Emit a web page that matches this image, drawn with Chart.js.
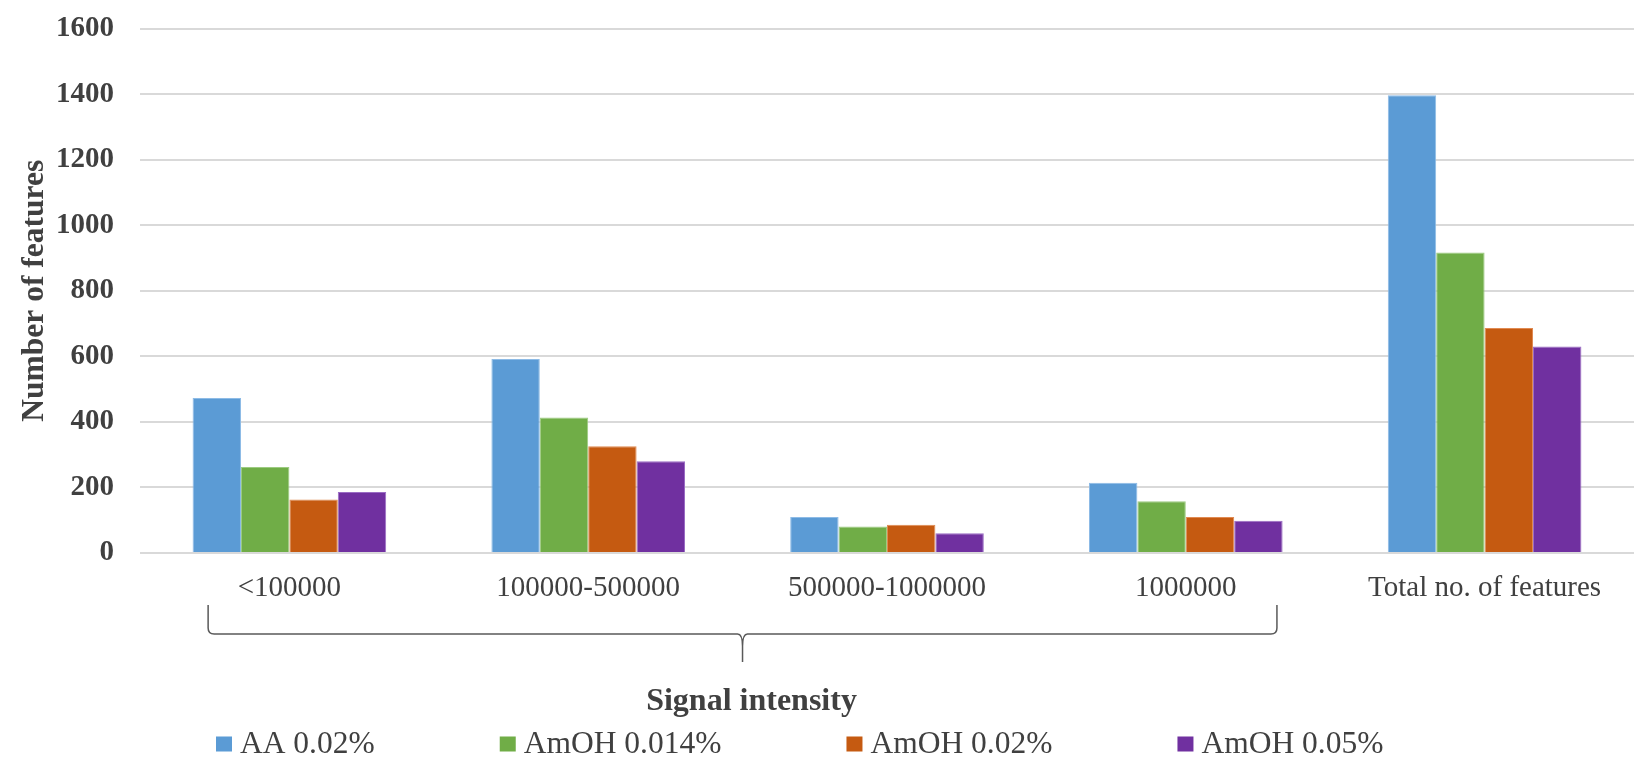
<!DOCTYPE html>
<html>
<head>
<meta charset="utf-8">
<script src="https://cdn.jsdelivr.net/npm/chart.js@4.4.1/dist/chart.umd.min.js"></script>
<style>
  html, body { margin: 0; padding: 0; background: #ffffff; }
  #wrap { width: 1637px; height: 769px; position: relative; }
</style>
</head>
<body>
<div id="wrap"><canvas id="chart" width="1637" height="769"></canvas></div>
<script>
// Feature counts per signal-intensity bin, for each mobile-phase additive
const categories = ['<100000', '100000-500000', '500000-1000000', '1000000', 'Total no. of features'];
const seriesNames = ['AA 0.02%', 'AmOH 0.014%', 'AmOH 0.02%', 'AmOH 0.05%'];
const aa002 = [473, 592, 110, 214, 1396];
const amoh0014 = [262, 413, 81, 158, 917];
const amoh002 = [163, 326, 86, 110, 686];
const amoh005 = [186, 280, 60, 98, 630];
const yTicks = [0, 200, 400, 600, 800, 1000, 1200, 1400, 1600];
const xTitle = 'Signal intensity';
const yTitle = 'Number of features';

const fills = ['#5b9bd5', '#70ad47', '#c55a11', '#7030a0'];
const edges = ['#8dbbe6', '#9ccb80', '#e08a52', '#9a6cc4'];
const textColor = '#404040';
const serif = "'Liberation Serif', 'Times New Roman', serif";

const seriesValues = [aa002, amoh0014, amoh002, amoh005];
const datasets = seriesValues.map((vals, i) => ({
  label: seriesNames[i],
  data: vals,
  backgroundColor: fills[i],
  borderColor: edges[i],
  borderWidth: 1,
  categoryPercentage: 0.648,
  barPercentage: 1.0
}));

// Curly bracket grouping the intensity bins, plus the axis title and legend
const annotations = {
  id: 'annotations',
  afterDraw(chart) {
    const ctx = chart.ctx;
    const x = chart.scales.x;
    const step = x.getPixelForValue(1) - x.getPixelForValue(0);
    const L = x.getPixelForValue(0) - 0.272 * step;
    const R = x.getPixelForValue(3) + 0.305 * step;
    const C = (L + R) / 2;
    const top = 605, line = 634, tip = 662, r = 6;

    ctx.save();
    ctx.strokeStyle = '#595959';
    ctx.lineWidth = 1.5;
    ctx.beginPath();
    ctx.moveTo(L, top);
    ctx.lineTo(L, line - r);
    ctx.quadraticCurveTo(L, line, L + r, line);
    ctx.lineTo(C - 5, line);
    ctx.quadraticCurveTo(C, line, C, line + 12);
    ctx.lineTo(C, tip);
    ctx.moveTo(C, line + 12);
    ctx.quadraticCurveTo(C, line, C + 5, line);
    ctx.lineTo(R - r, line);
    ctx.quadraticCurveTo(R, line, R, line - r);
    ctx.lineTo(R, top);
    ctx.stroke();

    ctx.fillStyle = textColor;
    ctx.font = 'bold 32px ' + serif;
    ctx.textAlign = 'center';
    ctx.textBaseline = 'middle';
    ctx.fillText(xTitle, C + 9, 702);

    // legend row: swatch, label, then a fixed gap before the next entry
    const legendY = 744;
    const boxW = 16, boxH = 15, textGap = 8, itemGap = 125;
    let lx = 216;
    ctx.font = '31.5px ' + serif;
    ctx.textAlign = 'left';
    chart.data.datasets.forEach((ds) => {
      ctx.fillStyle = ds.backgroundColor;
      ctx.fillRect(lx, legendY - boxH / 2, boxW, boxH);
      ctx.fillStyle = textColor;
      ctx.fillText(ds.label, lx + boxW + textGap, legendY + 1);
      lx += boxW + textGap + ctx.measureText(ds.label).width + itemGap;
    });
    ctx.restore();
  }
};

new Chart(document.getElementById('chart'), {
  type: 'bar',
  data: { labels: categories, datasets },
  plugins: [annotations],
  options: {
    responsive: false,
    animation: false,
    layout: { padding: { top: 28.5, right: 3, left: 0, bottom: 0 } },
    plugins: {
      legend: { display: false },
      tooltip: { enabled: false }
    },
    scales: {
      x: {
        grid: { display: false, drawTicks: false },
        border: { display: false },
        ticks: {
          color: textColor,
          font: { family: serif, size: 29 },
          padding: 18,
          maxRotation: 0,
          autoSkip: false
        },
        afterFit(scale) { scale.height = 216; }
      },
      y: {
        min: 0,
        max: 1600,
        afterBuildTicks(scale) { scale.ticks = yTicks.map(v => ({ value: v })); },
        grid: { color: '#d9d9d9', lineWidth: 2, drawTicks: false },
        border: { display: false },
        ticks: {
          color: textColor,
          font: { family: serif, size: 29, weight: 'bold' },
          padding: 26,
          callback: (v) => String(v)
        },
        title: {
          display: true,
          text: yTitle,
          color: textColor,
          font: { family: serif, size: 31.5, weight: 'bold' },
          padding: { top: 16, bottom: 0 }
        },
        afterFit(scale) {
          scale.width = 140;
          scale.paddingTop = 0;
          scale.paddingBottom = 0;
        }
      }
    }
  }
});
</script>
</body>
</html>
